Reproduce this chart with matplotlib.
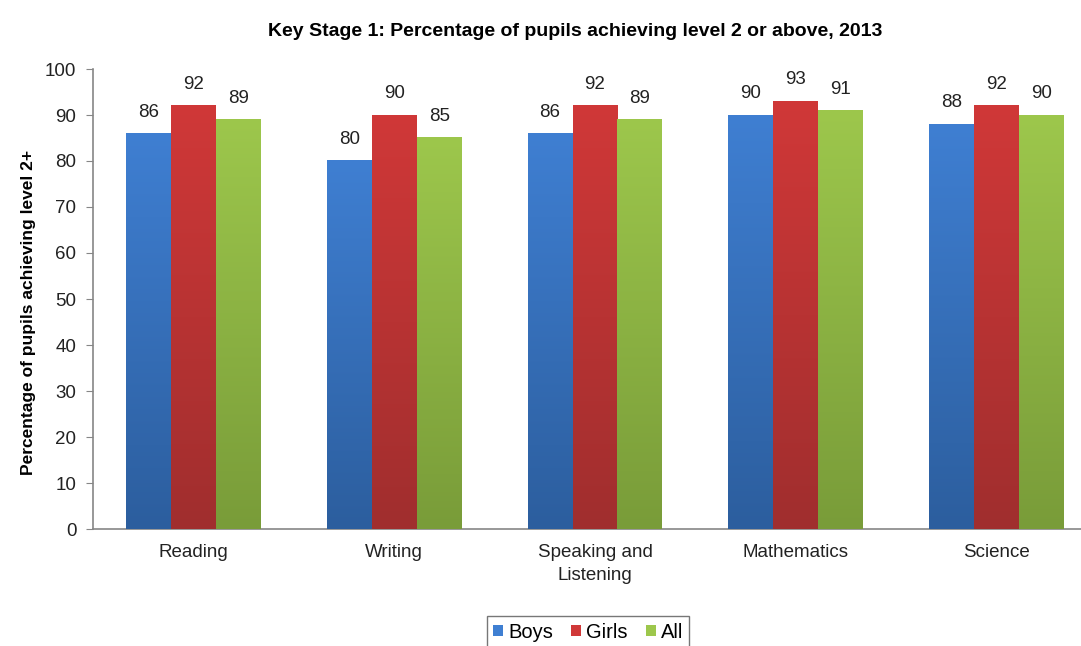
import numpy as np
import matplotlib.pyplot as plt
from matplotlib.colors import LinearSegmentedColormap

plt.rcParams['font.family'] = ['Liberation Sans', 'DejaVu Sans']

subjects = ['Reading', 'Writing', 'Speaking and\nListening', 'Mathematics', 'Science']
series = ['Boys', 'Girls', 'All']
boys = [86, 80, 86, 90, 88]
girls = [92, 90, 92, 93, 92]
all_pupils = [89, 85, 89, 91, 90]
yticks = [0, 10, 20, 30, 40, 50, 60, 70, 80, 90, 100]

# (top colour, bottom colour) for the gradient fill
colours = [('#3f7fd2', '#2c5e9e'), ('#d03838', '#a02e2e'), ('#9dc74c', '#799c39')]

fig = plt.figure(figsize=(10.81, 6.46), dpi=100)
ax = fig.add_axes([93 / 1081, (646 - 529) / 646, 1004 / 1081, 460 / 646])

x = np.arange(len(subjects))
w = 0.224
values = [boys, girls, all_pupils]
grad = np.linspace(1, 0, 256).reshape(-1, 1)

for i, (vals, name, (c_top, c_bot)) in enumerate(zip(values, series, colours)):
    pos = x + (i - 1) * w
    bars = ax.bar(pos, vals, w, color=c_top, label=name, zorder=2)
    cmap = LinearSegmentedColormap.from_list('g%d' % i, [c_bot, c_top])
    for b, v in zip(bars, vals):
        x0 = b.get_x()
        ax.imshow(grad, cmap=cmap, extent=[x0, x0 + w, 0, v], aspect='auto',
                  zorder=3, interpolation='bicubic')
        ax.text(b.get_x() + w / 2, v + 2.8, str(v), ha='center', va='bottom',
                fontsize=13.5, color='#222222')

ax.set_xlim(-0.5, len(subjects) - 0.5)
ax.set_ylim(0, 100)
ax.set_yticks(yticks)
ax.set_xticks(x)
ax.set_xticklabels(subjects, fontsize=13.5, color='#222222', linespacing=1.45)
ax.tick_params(axis='x', length=0, pad=11)
ax.tick_params(axis='y', length=5, color='#868686', labelsize=13.5, labelcolor='#222222', pad=7)

for s in ['top', 'right']:
    ax.spines[s].set_visible(False)
for s in ['left', 'bottom']:
    ax.spines[s].set_color('#868686')
    ax.spines[s].set_linewidth(1.2)

ax.set_ylabel('Percentage of pupils achieving level 2+', fontsize=12.5,
              fontweight='bold', labelpad=10)
ax.yaxis.set_label_coords(-0.057, 0.47)
fig.text(575 / 1081, 1 - 31 / 646,
         'Key Stage 1: Percentage of pupils achieving level 2 or above, 2013',
         ha='center', va='center', fontsize=14, fontweight='bold')

leg = fig.legend(loc='center', bbox_to_anchor=(588 / 1081, 1 - 632 / 646), ncol=3,
                 fontsize=14.5, frameon=True, fancybox=False, handlelength=0.5,
                 handleheight=0.5, handletextpad=0.25, columnspacing=0.9,
                 borderpad=0.3, borderaxespad=0.2, edgecolor='#555555')
leg.get_frame().set_linewidth(1.0)

fig.savefig('out.png', dpi=100)
